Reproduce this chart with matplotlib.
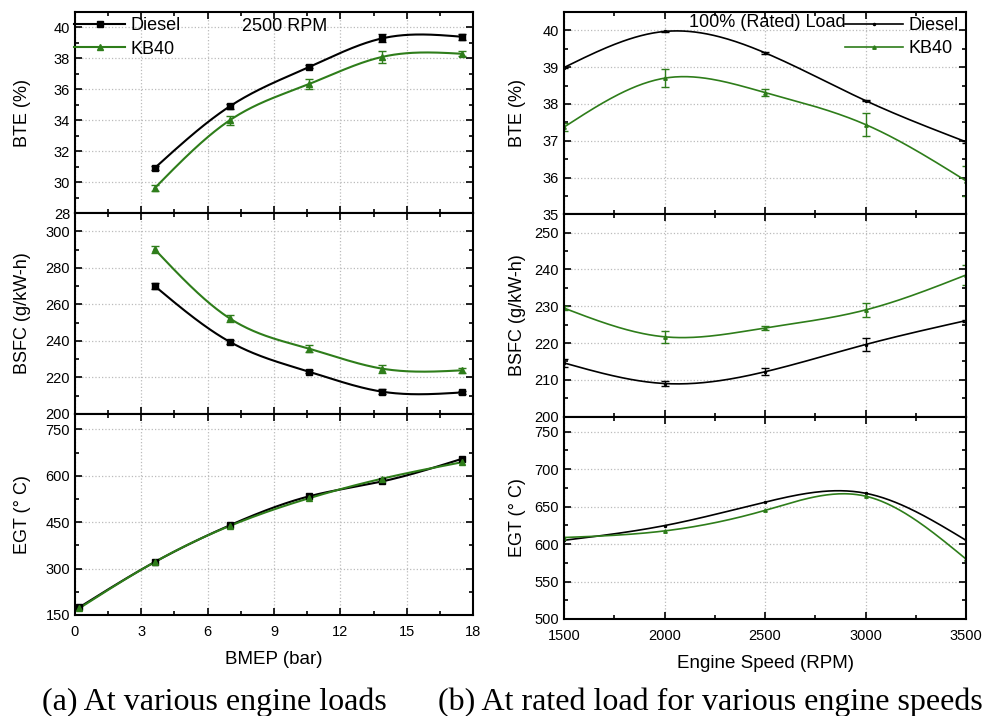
import numpy as np
import matplotlib
matplotlib.use("Agg")
import matplotlib.pyplot as plt
from matplotlib.ticker import MultipleLocator

plt.rcParams['font.family'] = ['Liberation Sans', 'DejaVu Sans']

# engine load sweep at 2500 RPM
bmep = [3.6, 7.0, 10.6, 13.9, 17.5]
bmep_egt = [0.2, 3.6, 7.0, 10.6, 13.9, 17.5]
bte_diesel_a = [30.9, 34.9, 37.45, 39.3, 39.4]
bte_kb40_a = [29.6, 34.0, 36.35, 38.1, 38.3]
bte_diesel_a_err = [0.15, 0.15, 0.1, 0.25, 0.2]
bte_kb40_a_err = [0.2, 0.3, 0.3, 0.4, 0.15]
bsfc_diesel_a = [270.1, 239.5, 223.1, 212.2, 211.8]
bsfc_kb40_a = [290.2, 252.3, 235.7, 224.8, 223.9]
bsfc_diesel_a_err = [1.5, 1.0, 0.8, 1.5, 1.0]
bsfc_kb40_a_err = [2.0, 1.8, 1.8, 2.2, 1.2]
egt_diesel_a = [175, 321, 440, 534, 582, 655]
egt_kb40_a = [172, 321, 438, 528, 591, 644]

# rated load, speed sweep
rpm = [1500, 2000, 2500, 3000, 3500]
bte_diesel_b = [38.99, 39.97, 39.39, 38.09, 36.97]
bte_kb40_b = [37.37, 38.70, 38.31, 37.44, 35.91]
bte_diesel_b_err = [0.02, 0.02, 0.02, 0.02, 0.02]
bte_kb40_b_err = [0.1, 0.25, 0.1, 0.3, 0.4]
bsfc_diesel_b = [214.6, 209.0, 212.2, 219.6, 226.1]
bsfc_kb40_b = [229.5, 221.7, 224.1, 229.0, 238.5]
bsfc_diesel_b_err = [1.0, 0.8, 1.0, 1.8, 0.3]
bsfc_kb40_b_err = [0.5, 1.6, 0.6, 1.8, 2.8]
egt_diesel_b = [605, 624.6, 655.9, 667.8, 605]
egt_kb40_b = [608.7, 617.5, 644.9, 663.9, 580]

GREEN = '#2e7d1a'


def smooth(x, y, n=200):
    # natural cubic spline through the points
    x = np.asarray(x, float)
    y = np.asarray(y, float)
    k = len(x)
    h = np.diff(x)
    A = np.zeros((k, k))
    b = np.zeros(k)
    A[0, 0] = A[-1, -1] = 1
    for i in range(1, k - 1):
        A[i, i - 1] = h[i - 1]
        A[i, i] = 2 * (h[i - 1] + h[i])
        A[i, i + 1] = h[i]
        b[i] = 6 * ((y[i + 1] - y[i]) / h[i] - (y[i] - y[i - 1]) / h[i - 1])
    M = np.linalg.solve(A, b)
    xs = np.linspace(x[0], x[-1], n)
    j = np.clip(np.searchsorted(x, xs) - 1, 0, k - 2)
    t1 = x[j + 1] - xs
    t0 = xs - x[j]
    ys = (M[j] * t1**3 + M[j + 1] * t0**3) / (6 * h[j]) \
        + (y[j] / h[j] - M[j] * h[j] / 6) * t1 \
        + (y[j + 1] / h[j] - M[j + 1] * h[j] / 6) * t0
    return xs, ys


def style(ax):
    ax.tick_params(which='both', direction='in', top=True, right=True,
                   labelsize=10.5, width=1.2)
    ax.tick_params(which='major', length=5)
    ax.tick_params(which='minor', length=3)
    ax.tick_params(axis='x', pad=7)
    ax.grid(True, which='major', color='#bbbbbb', linestyle=':', linewidth=0.9)
    for s in ax.spines.values():
        s.set_linewidth(1.5)


def series(ax, x, y, err, color, marker, ms, lw):
    xs, ys = smooth(x, y)
    ax.plot(xs, ys, color=color, lw=lw)
    ax.errorbar(x, y, yerr=err, fmt=marker, color=color, ms=ms,
                capsize=3, elinewidth=1, capthick=1)


fig = plt.figure(figsize=(9.84, 7.16), dpi=100)

L = [0.0762, 0.0762 + 0.4045]
R = [0.5732, 0.5732 + 0.4085]
h_a = 0.2807
h_b = 0.2826
bot_a = 0.1411
bot_b = 0.1355

axa = [fig.add_axes([L[0], bot_a + (2 - i) * h_a, L[1] - L[0], h_a]) for i in range(3)]
axb = [fig.add_axes([R[0], bot_b + (2 - i) * h_b, R[1] - R[0], h_b]) for i in range(3)]

# (a) panels
ax = axa[0]
series(ax, bmep, bte_diesel_a, bte_diesel_a_err, 'black', 's', 5, 1.5)
series(ax, bmep, bte_kb40_a, bte_kb40_a_err, GREEN, '^', 5, 1.5)
ax.set_ylim(28, 41)
ax.yaxis.set_major_locator(MultipleLocator(2))
ax.yaxis.set_minor_locator(MultipleLocator(1))
ax.set_ylabel('BTE (%)', fontsize=13)
ax.text(0.42, 0.93, '2500 RPM', transform=ax.transAxes, fontsize=13, va='center')
hd, = ax.plot([], [], color='black', marker='s', ms=4, lw=1.5)
hk, = ax.plot([], [], color=GREEN, marker='^', ms=4, lw=1.5)
ax.legend([hd, hk], ['Diesel', 'KB40'], loc='upper left', bbox_to_anchor=(-0.02, 1.01),
          frameon=False, fontsize=13, handlelength=2.8, handletextpad=0.3,
          labelspacing=0.35, borderaxespad=0)

ax = axa[1]
series(ax, bmep, bsfc_diesel_a, bsfc_diesel_a_err, 'black', 's', 5, 1.5)
series(ax, bmep, bsfc_kb40_a, bsfc_kb40_a_err, GREEN, '^', 5, 1.5)
ax.set_ylim(200, 310)
ax.yaxis.set_major_locator(MultipleLocator(20))
ax.yaxis.set_minor_locator(MultipleLocator(10))
ax.set_ylabel('BSFC (g/kW-h)', fontsize=13)

ax = axa[2]
series(ax, bmep_egt, egt_diesel_a, None, 'black', 's', 5, 1.5)
series(ax, bmep_egt, egt_kb40_a, None, GREEN, '^', 5, 1.5)
ax.set_ylim(150, 800)
ax.yaxis.set_major_locator(MultipleLocator(150))
ax.yaxis.set_minor_locator(MultipleLocator(75))
ax.set_ylabel('EGT (° C)', fontsize=13)
ax.set_xlabel('BMEP (bar)', fontsize=13.5, labelpad=9)

for ax in axa:
    ax.set_xlim(0, 18)
    ax.xaxis.set_major_locator(MultipleLocator(3))
    ax.xaxis.set_minor_locator(MultipleLocator(1.5))
    style(ax)
    ax.yaxis.set_label_coords(-0.11, 0.5)
for ax in axa[:2]:
    ax.tick_params(labelbottom=False)

# (b) panels
ax = axb[0]
series(ax, rpm, bte_diesel_b, bte_diesel_b_err, 'black', '.', 3, 1.2)
series(ax, rpm, bte_kb40_b, bte_kb40_b_err, GREEN, '^', 2.5, 1.2)
ax.set_ylim(35, 40.5)
ax.yaxis.set_major_locator(MultipleLocator(1))
ax.yaxis.set_minor_locator(MultipleLocator(0.5))
ax.set_ylabel('BTE (%)', fontsize=13)
ax.text(0.31, 0.95, '100% (Rated) Load', transform=ax.transAxes, fontsize=13, va='center')
hd, = ax.plot([], [], color='black', marker='.', ms=3, lw=1.2)
hk, = ax.plot([], [], color=GREEN, marker='^', ms=2.5, lw=1.2)
ax.legend([hd, hk], ['Diesel', 'KB40'], loc='upper right', bbox_to_anchor=(1.0, 1.01),
          frameon=False, fontsize=13, handlelength=3.2, handletextpad=0.3,
          labelspacing=0.35, borderaxespad=0)

ax = axb[1]
series(ax, rpm, bsfc_diesel_b, bsfc_diesel_b_err, 'black', '.', 3, 1.2)
series(ax, rpm, bsfc_kb40_b, bsfc_kb40_b_err, GREEN, '^', 2.5, 1.2)
ax.set_ylim(200, 255)
ax.yaxis.set_major_locator(MultipleLocator(10))
ax.yaxis.set_minor_locator(MultipleLocator(5))
ax.set_ylabel('BSFC (g/kW-h)', fontsize=13)

ax = axb[2]
series(ax, rpm, egt_diesel_b, None, 'black', '.', 3, 1.2)
series(ax, rpm, egt_kb40_b, None, GREEN, '^', 2.5, 1.2)
ax.set_ylim(500, 770)
ax.yaxis.set_major_locator(MultipleLocator(50))
ax.yaxis.set_minor_locator(MultipleLocator(25))
ax.set_ylabel('EGT (° C)', fontsize=13)
ax.set_xlabel('Engine Speed (RPM)', fontsize=13.5, labelpad=9)

for ax in axb:
    ax.set_xlim(1500, 3500)
    ax.xaxis.set_major_locator(MultipleLocator(500))
    ax.xaxis.set_minor_locator(MultipleLocator(250))
    style(ax)
    ax.yaxis.set_label_coords(-0.095, 0.5)
for ax in axb[:2]:
    ax.tick_params(labelbottom=False)

fig.text(0.043, 0.008, '(a) At various engine loads', family='Liberation Serif', fontsize=23)
fig.text(0.445, 0.008, '(b) At rated load for various engine speeds',
         family='Liberation Serif', fontsize=23)

fig.savefig('out.png', dpi=100)
